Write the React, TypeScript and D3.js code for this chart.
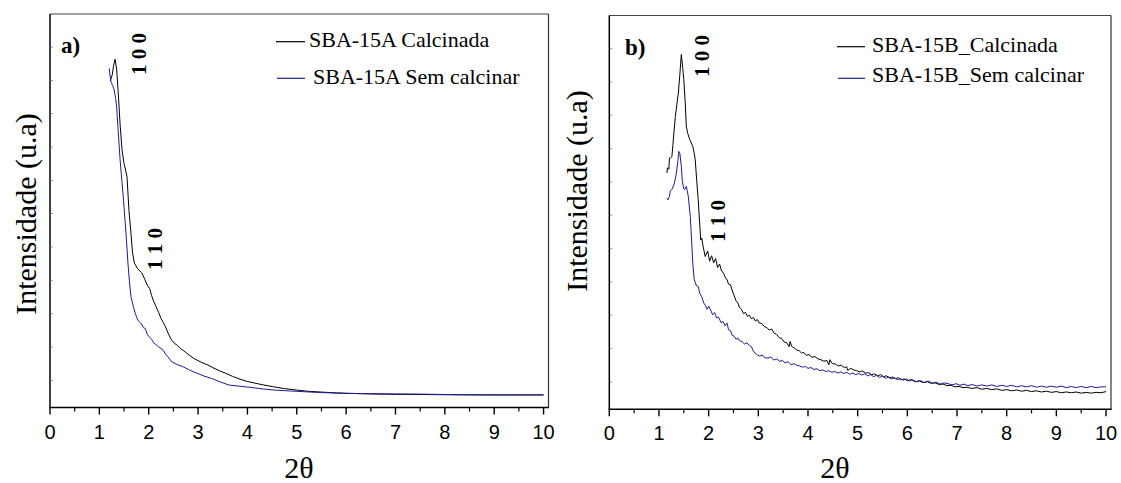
import React from 'react';
import * as d3 from 'd3';

type Pt = [number, number];

const xTickValues = [0, 1, 2, 3, 4, 5, 6, 7, 8, 9, 10];
const xMinorValues = [0.5, 1.5, 2.5, 3.5, 4.5, 5.5, 6.5, 7.5, 8.5, 9.5];
const yMinorValues = [6.9, 15.4, 23.9, 32.3, 40.8, 49.3, 57.7, 66.2, 74.7, 83.1, 91.6];
const xLabel = '2θ';
const yLabel = 'Intensidade (u.a)';
const panelTags = ['a)', 'b)'];
const legendA = ['SBA-15A Calcinada', 'SBA-15A Sem calcinar'];
const legendB = ['SBA-15B_Calcinada', 'SBA-15B_Sem calcinar'];
const peakLabels = ['1 0 0', '1 1 0'];

const aCalcinada: Pt[] = [
  [1.22, 83.0], [1.26, 84.5], [1.29, 87.0], [1.32, 88.5], [1.35, 86.0], [1.38, 80.5], [1.42, 72.0],
  [1.46, 65.4], [1.5, 62.0], [1.56, 58.7], [1.6, 50.0], [1.64, 44.3], [1.67, 39.5], [1.71, 36.7],
  [1.78, 35.2], [1.86, 34.2], [1.92, 32.6], [1.97, 31.1], [2.02, 30.2], [2.06, 28.4], [2.1, 27.0],
  [2.15, 25.6], [2.2, 24.2], [2.25, 22.6], [2.3, 21.5], [2.34, 20.5], [2.4, 18.7], [2.46, 17.2],
  [2.52, 16.3], [2.58, 15.8], [2.64, 15.0], [2.69, 14.6], [2.75, 14.0], [2.82, 13.3], [2.91, 12.5],
  [3.0, 11.9], [3.1, 11.3], [3.2, 10.8], [3.32, 10.0], [3.44, 9.3], [3.56, 8.7], [3.7, 7.9],
  [3.85, 7.2], [4.0, 6.6], [4.15, 6.2], [4.3, 5.8], [4.51, 5.3], [4.75, 4.8], [5.02, 4.4],
  [5.25, 4.1], [5.52, 3.9], [5.8, 3.7], [6.03, 3.6], [6.5, 3.45], [7.0, 3.35], [7.5, 3.3],
  [8.0, 3.25], [8.5, 3.2], [9.0, 3.2], [9.5, 3.2], [10.0, 3.2],
];

const aSemCalcinar: Pt[] = [
  [1.2, 86.2], [1.22, 84.0], [1.24, 82.6], [1.27, 81.8], [1.3, 80.7], [1.33, 78.5], [1.35, 76.4],
  [1.38, 70.5], [1.42, 63.0], [1.46, 57.0], [1.49, 52.7], [1.52, 47.5], [1.54, 44.3], [1.56, 40.5],
  [1.58, 36.6], [1.61, 32.0], [1.64, 28.2], [1.69, 25.6], [1.73, 23.8], [1.78, 22.2], [1.82, 21.6],
  [1.86, 21.2], [1.89, 20.3], [1.93, 20.1], [1.97, 18.6], [2.02, 17.8], [2.06, 17.3], [2.11, 16.3],
  [2.16, 15.9], [2.2, 15.4], [2.25, 15.0], [2.29, 14.6], [2.34, 13.6], [2.38, 13.0], [2.47, 11.6],
  [2.58, 10.9], [2.69, 10.4], [2.83, 9.5], [2.98, 8.7], [3.12, 8.0], [3.27, 7.4], [3.45, 6.5],
  [3.63, 5.7], [3.85, 5.4], [4.07, 5.1], [4.32, 4.7], [4.58, 4.4], [4.87, 4.2], [5.16, 4.0],
  [5.5, 3.8], [6.0, 3.6], [6.5, 3.5], [7.0, 3.45], [7.5, 3.4], [8.0, 3.3], [8.5, 3.25], [9.0, 3.2],
  [9.5, 3.2], [10.0, 3.2],
];

const bCalcinada: Pt[] = [
  [1.16, 60.0], [1.17, 61.3], [1.2, 61.0], [1.21, 63.8], [1.23, 63.8], [1.26, 64.2], [1.28, 67.0],
  [1.3, 70.2], [1.33, 74.4], [1.36, 77.5], [1.39, 80.3], [1.42, 85.0], [1.45, 90.1], [1.48, 86.5],
  [1.5, 83.7], [1.53, 77.5], [1.55, 71.9], [1.58, 70.0], [1.62, 68.5], [1.68, 66.8], [1.71, 65.0],
  [1.73, 63.4], [1.76, 58.0], [1.79, 53.2], [1.82, 47.0], [1.84, 43.0], [1.86, 43.5], [1.89, 41.3],
  [1.93, 38.8], [1.98, 40.2], [2.02, 37.6], [2.06, 39.0], [2.1, 37.2], [2.14, 38.3], [2.18, 36.0],
  [2.22, 36.9], [2.26, 35.1], [2.29, 34.8], [2.33, 33.6], [2.37, 32.9], [2.4, 31.8], [2.44, 31.6],
  [2.47, 30.3], [2.51, 29.0], [2.55, 27.6], [2.59, 27.0], [2.62, 25.9], [2.66, 25.4], [2.7, 24.3],
  [2.74, 24.6], [2.78, 23.6], [2.82, 23.9], [2.86, 23.0], [2.9, 23.3], [2.94, 22.4], [2.98, 22.8],
  [3.02, 21.9], [3.07, 21.8], [3.12, 21.0], [3.17, 20.8], [3.22, 20.1], [3.27, 20.4], [3.32, 19.3],
  [3.37, 19.0], [3.42, 18.2], [3.47, 18.0], [3.52, 17.1], [3.57, 16.9], [3.62, 15.9], [3.64, 17.2],
  [3.67, 16.0], [3.72, 15.6], [3.77, 15.1], [3.82, 14.9], [3.87, 14.3], [3.92, 14.4], [3.97, 13.7],
  [4.02, 13.9], [4.08, 13.2], [4.14, 13.4], [4.2, 12.8], [4.26, 12.6], [4.32, 12.2], [4.38, 12.4],
  [4.42, 11.3], [4.44, 12.6], [4.49, 11.6], [4.55, 11.5], [4.61, 11.0], [4.67, 11.2], [4.73, 10.6],
  [4.78, 10.8], [4.8, 9.9], [4.86, 10.4], [4.92, 10.0], [4.98, 9.8], [5.04, 9.5], [5.1, 9.7],
  [5.16, 9.2], [5.22, 9.3], [5.28, 8.8], [5.34, 9.0], [5.4, 8.5], [5.46, 8.8], [5.52, 8.3],
  [5.58, 8.5], [5.64, 8.0], [5.7, 8.2], [5.76, 7.8], [5.82, 8.0], [5.88, 7.5], [5.94, 7.7],
  [6.0, 7.3], [6.08, 7.5], [6.16, 7.0], [6.24, 7.2], [6.32, 6.8], [6.4, 7.0], [6.48, 6.6],
  [6.56, 6.7], [6.64, 6.3], [6.72, 6.4], [6.8, 6.0], [6.88, 6.1], [6.96, 5.7], [7.04, 5.8],
  [7.12, 5.5], [7.2, 5.6], [7.3, 5.3], [7.4, 5.5], [7.5, 5.1], [7.6, 5.3], [7.7, 5.0], [7.8, 5.2],
  [7.9, 4.8], [8.0, 5.0], [8.1, 4.7], [8.2, 4.9], [8.3, 4.6], [8.4, 4.8], [8.5, 4.5], [8.6, 4.7],
  [8.7, 4.4], [8.8, 4.6], [8.9, 4.3], [9.0, 4.5], [9.1, 4.2], [9.2, 4.4], [9.3, 4.2], [9.4, 4.4],
  [9.5, 4.1], [9.6, 4.3], [9.7, 4.1], [9.8, 4.3], [9.9, 4.2], [10.0, 4.5],
];

const bSemCalcinar: Pt[] = [
  [1.16, 53.6], [1.18, 53.2], [1.21, 54.1], [1.23, 55.5], [1.26, 55.8], [1.3, 57.0], [1.33, 58.5],
  [1.35, 60.0], [1.38, 63.0], [1.4, 65.5], [1.42, 65.0], [1.45, 61.7], [1.47, 57.9], [1.5, 56.0],
  [1.52, 55.8], [1.55, 56.6], [1.57, 55.5], [1.59, 54.1], [1.63, 49.0], [1.66, 42.2], [1.68, 37.1],
  [1.71, 32.9], [1.75, 31.5], [1.79, 31.2], [1.82, 29.5], [1.86, 28.6], [1.9, 27.0], [1.93, 26.5],
  [1.97, 25.4], [2.0, 26.2], [2.04, 25.2], [2.08, 24.0], [2.12, 24.6], [2.16, 23.2], [2.2, 23.4],
  [2.25, 22.0], [2.29, 22.3], [2.33, 21.2], [2.37, 21.9], [2.4, 20.2], [2.44, 20.0], [2.47, 18.9],
  [2.51, 18.6], [2.55, 17.8], [2.59, 18.1], [2.62, 17.4], [2.67, 17.2], [2.72, 16.6], [2.77, 16.9],
  [2.82, 16.2], [2.86, 15.9], [2.9, 14.8], [2.94, 14.2], [2.98, 13.8], [3.03, 13.5], [3.08, 13.8],
  [3.13, 13.1], [3.19, 13.0], [3.25, 13.3], [3.31, 12.5], [3.37, 12.8], [3.43, 12.2], [3.48, 12.4],
  [3.54, 11.8], [3.6, 12.1], [3.66, 11.3], [3.72, 11.6], [3.77, 11.2], [3.83, 11.0], [3.89, 10.7],
  [3.95, 10.9], [4.0, 10.4], [4.06, 10.6], [4.12, 10.1], [4.18, 10.3], [4.24, 9.8], [4.3, 10.0],
  [4.36, 9.6], [4.42, 9.8], [4.48, 9.4], [4.54, 9.6], [4.6, 9.2], [4.66, 9.5], [4.72, 9.1],
  [4.78, 9.4], [4.84, 8.9], [4.9, 9.2], [4.96, 8.8], [5.02, 9.1], [5.08, 8.7], [5.14, 9.0],
  [5.2, 8.5], [5.26, 8.8], [5.32, 8.3], [5.38, 8.6], [5.44, 8.1], [5.5, 8.4], [5.56, 7.9],
  [5.62, 8.2], [5.68, 7.7], [5.74, 8.0], [5.8, 7.5], [5.86, 7.8], [5.92, 7.4], [5.98, 7.7],
  [6.04, 7.2], [6.1, 7.5], [6.18, 7.0], [6.26, 7.3], [6.34, 6.8], [6.42, 7.2], [6.5, 6.6],
  [6.58, 6.9], [6.66, 6.4], [6.74, 6.7], [6.82, 6.5], [6.9, 6.2], [6.98, 6.5], [7.06, 6.1],
  [7.14, 6.4], [7.22, 6.0], [7.3, 6.3], [7.4, 5.9], [7.5, 6.2], [7.6, 5.9], [7.7, 6.2], [7.8, 5.8],
  [7.9, 6.1], [8.0, 5.8], [8.1, 6.1], [8.2, 5.7], [8.3, 6.0], [8.4, 5.7], [8.5, 6.0], [8.6, 5.6],
  [8.7, 5.9], [8.8, 5.6], [8.9, 5.9], [9.0, 5.6], [9.1, 5.9], [9.2, 5.5], [9.3, 5.8], [9.4, 5.5],
  [9.5, 5.8], [9.6, 5.5], [9.7, 5.8], [9.8, 5.5], [9.9, 5.7], [10.0, 5.7],
];

const SERIF = '"Liberation Serif", "Times New Roman", Times, serif';
const SANS = '"Liberation Sans", Arial, Helvetica, sans-serif';
const BLACK = '#000000';
const BLUE = '#1c1c96';

interface PanelLayout {
  left: number; right: number; top: number; bottom: number;
  tag: string; tagX: number; tagY: number;
  legend: string[];
  legLine: [number, number][];
  legY: number[]; legTextX: number[]; legTextY: number[];
  peak100: [number, number]; peak110: [number, number];
  yLabelPos: [number, number]; xLabelPos: [number, number];
  calc: Pt[]; sem: Pt[];
}

const panels: PanelLayout[] = [
  {
    left: 50, right: 548.5, top: 14, bottom: 407.5,
    tag: panelTags[0], tagX: 61, tagY: 53,
    legend: legendA,
    legLine: [[276, 305], [277, 305]],
    legY: [41.7, 78.3], legTextX: [309, 313], legTextY: [46.5, 83.5],
    peak100: [139, 54], peak110: [155, 249],
    yLabelPos: [36, 214], xLabelPos: [299, 478],
    calc: aCalcinada, sem: aSemCalcinar,
  },
  {
    left: 609.3, right: 1111, top: 15.5, bottom: 409.3,
    tag: panelTags[1], tagX: 625, tagY: 55,
    legend: legendB,
    legLine: [[837, 865], [838, 865]],
    legY: [46.7, 78.3], legTextX: [872, 872], legTextY: [52, 82],
    peak100: [702, 56], peak110: [718, 221],
    yLabelPos: [587, 191], xLabelPos: [835, 478],
    calc: bCalcinada, sem: bSemCalcinar,
  },
];

function Panel({ p }: { p: PanelLayout }) {
  const x = d3.scaleLinear().domain([0, 10.1]).range([p.left, p.right]);
  const y = d3.scaleLinear().domain([0, 100]).range([p.bottom, p.top]);
  const line = d3.line<Pt>().x((d) => x(d[0])).y((d) => y(d[1]));
  return (
    <g>
      <line x1={p.left} y1={p.top} x2={p.right} y2={p.top} stroke="#444" strokeWidth={1.2} />
      <line x1={p.right} y1={p.top} x2={p.right} y2={p.bottom} stroke="#333" strokeWidth={1.2} />
      <line x1={p.left} y1={p.top} x2={p.left} y2={p.bottom} stroke="#000" strokeWidth={1.5} />
      <line x1={p.left - 0.75} y1={p.bottom} x2={p.right + 0.6} y2={p.bottom} stroke="#000" strokeWidth={1.5} />
      {yMinorValues.map((v) => (
        <line key={'ym' + v} x1={p.left + 0.5} x2={p.left + 3} y1={y(v)} y2={y(v)} stroke="#999" strokeWidth={1} />
      ))}
      {xTickValues.map((v) => (
        <g key={'xt' + v}>
          <line x1={x(v)} x2={x(v)} y1={p.bottom} y2={p.bottom + 7} stroke="#000" strokeWidth={1.4} />
          <text x={x(v)} y={p.bottom + 31} textAnchor="middle" fontFamily={SANS} fontSize={20} fill="#000">
            {String(v)}
          </text>
        </g>
      ))}
      {xMinorValues.map((v) => (
        <line key={'xm' + v} x1={x(v)} x2={x(v)} y1={p.bottom} y2={p.bottom + 4} stroke="#000" strokeWidth={1.2} />
      ))}
      <path d={line(p.calc) || ''} fill="none" stroke={BLACK} strokeWidth={1} strokeLinejoin="round" />
      <path d={line(p.sem) || ''} fill="none" stroke={BLUE} strokeWidth={1} strokeLinejoin="round" />
      <text x={p.tagX} y={p.tagY} fontFamily={SERIF} fontWeight="bold" fontSize={23} fill="#000">{p.tag}</text>
      <text transform={`translate(${p.peak100[0]},${p.peak100[1]}) rotate(-90)`} textAnchor="middle"
        dominantBaseline="central" fontFamily={SERIF} fontWeight="bold" fontSize={21} fill="#000">{peakLabels[0]}</text>
      <text transform={`translate(${p.peak110[0]},${p.peak110[1]}) rotate(-90)`} textAnchor="middle"
        dominantBaseline="central" fontFamily={SERIF} fontWeight="bold" fontSize={21} fill="#000">{peakLabels[1]}</text>
      {p.legend.map((t, i) => (
        <g key={'lg' + i}>
          <line x1={p.legLine[i][0]} x2={p.legLine[i][1]} y1={p.legY[i]} y2={p.legY[i]} stroke={i === 0 ? BLACK : BLUE} strokeWidth={1.2} />
          <text x={p.legTextX[i]} y={p.legTextY[i]} fontFamily={SERIF} fontSize={22} fill="#000">{t}</text>
        </g>
      ))}
      <text transform={`translate(${p.yLabelPos[0]},${p.yLabelPos[1]}) rotate(-90)`} textAnchor="middle"
        fontFamily={SERIF} fontSize={30} fill="#000">{yLabel}</text>
      <text x={p.xLabelPos[0]} y={p.xLabelPos[1]} textAnchor="middle" fontFamily={SERIF} fontSize={30} fill="#000">{xLabel}</text>
    </g>
  );
}

export default function App() {
  return (
    <svg width={1121} height={483} viewBox="0 0 1121 483"
      style={{ position: 'absolute', left: 0, top: 0, background: '#fff' }}>
      <rect x={0} y={0} width={1121} height={483} fill="#fff" />
      {panels.map((p, i) => <Panel key={i} p={p} />)}
    </svg>
  );
}
